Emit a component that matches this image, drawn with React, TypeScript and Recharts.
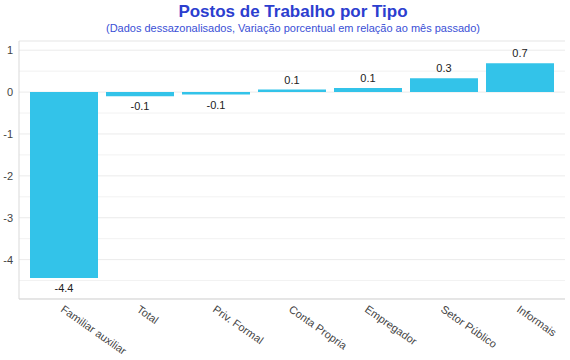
import React from "react";
import { BarChart, Bar, XAxis, YAxis, CartesianGrid, LabelList } from "recharts";

const categories = ["Familiar auxiliar", "Total", "Priv. Formal", "Conta Propria", "Empregador", "Setor Público", "Informais"];
const values = [-4.44, -0.1, -0.06, 0.06, 0.1, 0.33, 0.69];
const yTicks = [-4, -3, -2, -1, 0, 1];
const minorGrid = [-4.5, -3.5, -2.5, -1.5, -0.5, 0.5];
const yDomain = [-4.94, 1.22];

const data = categories.map((name, i) => ({ name, value: values[i] }));

const FONT = "Liberation Sans, Arial, sans-serif";

const BarLabel = (props: any) => {
  const { x, y, width, height, value } = props;
  const top = Math.min(y, y + height);
  const bottom = Math.max(y, y + height);
  const cx = x + width / 2;
  const ty = value < 0 ? bottom + 14 : top - 6;
  return (
    <text x={cx} y={ty} textAnchor="middle" fontSize={11} fill="#222" fontFamily={FONT}>
      {Number(value).toFixed(1)}
    </text>
  );
};

const XTick = (props: any) => {
  const { x, y, payload } = props;
  const ax = x - 4;
  const ay = y + 4;
  return (
    <text x={ax} y={ay} transform={`rotate(35, ${ax}, ${ay})`} textAnchor="start" fontSize={11} fill="#444" fontFamily={FONT}>
      {payload.value}
    </text>
  );
};

export default function App() {
  return (
    <div style={{ position: "absolute", left: 0, top: 0, width: 570, height: 360, background: "#fff" }}>
      <div style={{ position: "absolute", left: 0, top: 0 }}>
        <BarChart width={570} height={360} data={data} margin={{ top: 41, right: 5, bottom: 0, left: 0 }} barSize={68}>
          <CartesianGrid vertical={false} stroke="#f2f2f2" yAxisId="minor" />
          <CartesianGrid vertical={false} stroke="#ebebeb" />
          <XAxis
            dataKey="name"
            height={61}
            interval={0}
            tickLine={false}
            axisLine={{ stroke: "#d9d9d9" }}
            tick={<XTick />}
            padding={{ left: 7, right: 7 }}
          />
          <YAxis
            width={19}
            domain={yDomain}
            ticks={yTicks}
            allowDataOverflow
            tickLine={false}
            axisLine={{ stroke: "#d9d9d9" }}
            tickMargin={0}
            tick={{ fontSize: 11, fill: "#444", fontFamily: FONT }}
          />
          <YAxis yAxisId="minor" hide domain={yDomain} ticks={minorGrid} allowDataOverflow />
          <Bar dataKey="value" fill="#33C3E9" isAnimationActive={false}>
            <LabelList dataKey="value" content={<BarLabel />} />
          </Bar>
        </BarChart>
      </div>
      <svg width={570} height={38} style={{ position: "absolute", left: 0, top: 0 }}>
        <text x={293} y={17} textAnchor="middle" fontSize={17} fontWeight="bold" fill="#2C3ECF" fontFamily={FONT}>
          Postos de Trabalho por Tipo
        </text>
        <text x={293} y={32} textAnchor="middle" fontSize={11} fill="#3A4FD6" fontFamily={FONT}>
          (Dados dessazonalisados, Variação porcentual em relação ao mês passado)
        </text>
      </svg>
    </div>
  );
}
